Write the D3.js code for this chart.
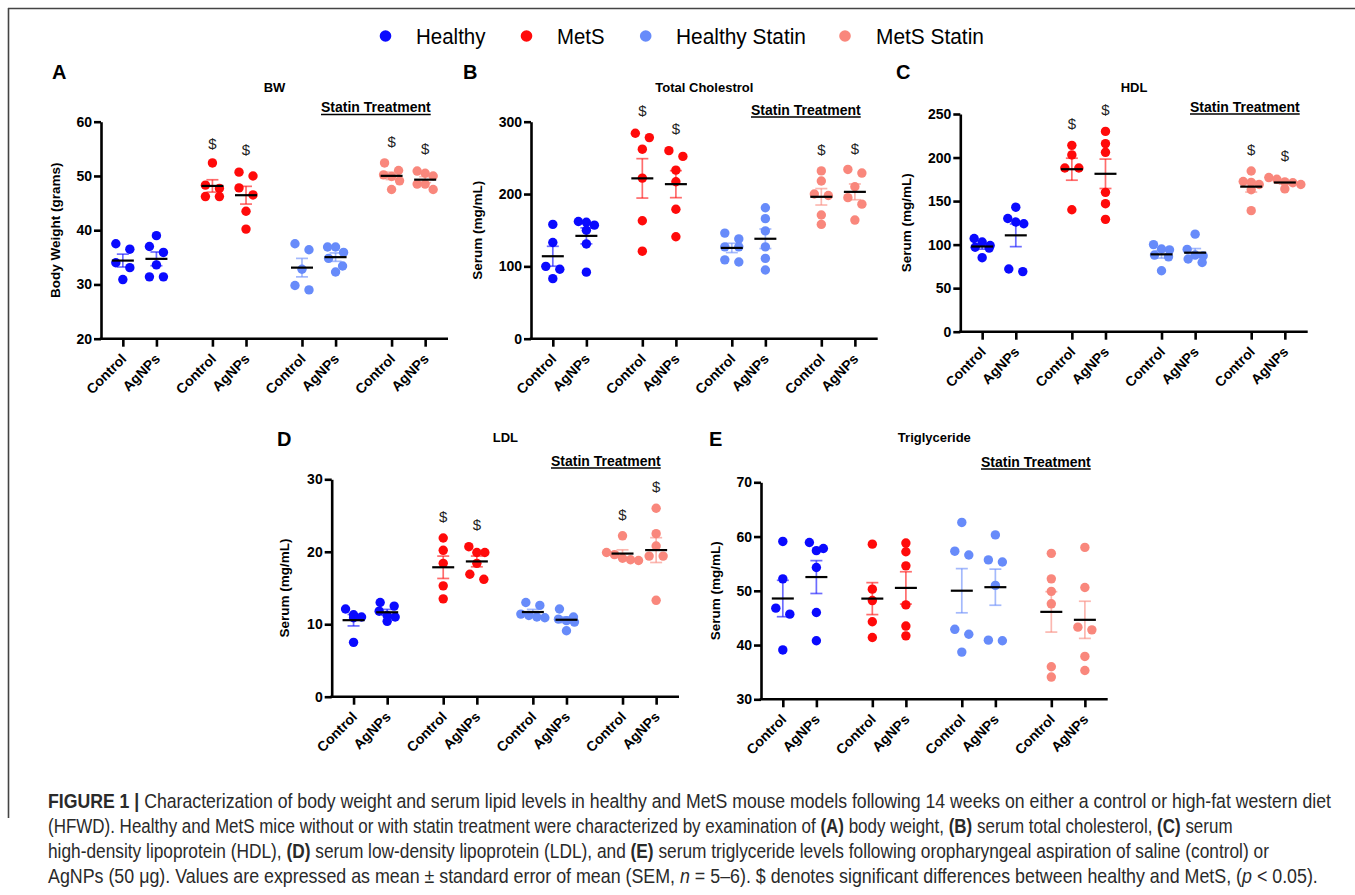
<!DOCTYPE html>
<html><head><meta charset="utf-8">
<script src="https://cdn.jsdelivr.net/npm/d3@7"></script>
<style>
body{margin:0;background:#fff;}
svg{display:block;font-family:"Liberation Sans",Arial,Helvetica,sans-serif;}
</style>
</head><body>
<svg id="fig" width="1355" height="895"></svg>
<script>
// ---------------- DATA ----------------
const groups = ["Healthy", "MetS", "Healthy Statin", "MetS Statin"];
const tickLabels = ["Control", "AgNPs", "Control", "AgNPs", "Control", "AgNPs", "Control", "AgNPs"];
const categoryGroup = [0, 0, 1, 1, 2, 2, 3, 3];

// A: body weight (grams)
const bwValues = [
  [37.5, 36.5, 34.0, 33.1, 30.9],
  [39.0, 37.0, 35.9, 33.6, 31.4, 31.4],
  [52.4, 48.3, 47.7, 46.2, 46.2],
  [50.7, 50.0, 47.8, 46.5, 43.5, 40.2],
  [37.5, 36.4, 32.8, 29.8, 29.0],
  [36.9, 36.9, 35.9, 34.8, 33.4, 32.3],
  [52.4, 51.0, 50.2, 49.9, 49.1, 47.5],
  [50.9, 50.5, 50.0, 48.5, 48.5, 47.5]
];
const bwSig = [null, null, 56.0, 54.8, null, null, 56.4, 55.1];
const bwTicks = [20, 30, 40, 50, 60];

// B: total cholesterol (mg/mL)
const tcValues = [
  [158, 133, 100, 96, 83],
  [162, 161, 157, 150, 131, 92],
  [284, 278, 262, 222, 163, 121],
  [260, 252, 233, 217, 179, 141],
  [146, 138, 127, 127, 109, 106],
  [181, 166, 149, 127, 111, 95],
  [232, 218, 200, 198, 171, 158],
  [234, 229, 210, 195, 186, 164]
];
const tcSig = [null, null, 315, 290, null, null, 262, 263];
const tcTicks = [0, 100, 200, 300];

// C: HDL (mg/mL)
const hdlValues = [
  [107, 103, 99, 97, 96, 85],
  [143, 130, 126, 124, 72, 69],
  [214, 203, 188, 188, 140],
  [230, 216, 206, 160, 147, 129],
  [100, 95, 94, 88, 86, 70],
  [112, 94.5, 88, 87, 83.5, 79.5],
  [184.5, 172.5, 171.5, 169, 163, 139],
  [177, 175, 172, 171, 169, 164]
];
const hdlSig = [null, null, 239, 255, null, null, 209, 202];
const hdlTicks = [0, 50, 100, 150, 200, 250];

// D: LDL (mg/mL)
const ldlValues = [
  [12.1, 11.3, 11.0, 10.9, 7.5],
  [13.0, 12.5, 11.8, 11.2, 11.0, 10.4],
  [21.9, 20.2, 18.4, 15.3, 13.5],
  [20.7, 19.9, 19.9, 18.4, 16.9, 16.2],
  [13.0, 12.6, 11.4, 11.2, 11.0, 10.9],
  [12.1, 11.0, 10.7, 10.5, 10.3, 9.1],
  [22.2, 19.9, 19.6, 19.1, 18.9, 18.8],
  [26.0, 22.5, 20.8, 19.4, 19.4, 13.3]
];
const ldlSig = [null, null, 24.8, 23.8, null, null, 25.2, 29.0];
const ldlTicks = [0, 10, 20, 30];

// E: triglyceride (mg/mL)
const tgValues = [
  [59.1, 52.2, 46.8, 45.7, 39.1],
  [58.9, 57.8, 57.4, 54.3, 46.0, 40.8],
  [58.6, 50.3, 48.2, 44.3, 41.4],
  [58.8, 57.2, 54.6, 47.4, 43.5, 41.7],
  [62.6, 57.3, 56.6, 42.9, 42.0, 38.7],
  [60.3, 55.7, 55.3, 51.0, 40.9, 40.8],
  [56.9, 52.2, 49.9, 47.6, 36.0, 34.1],
  [58.0, 50.6, 43.3, 42.8, 37.9, 35.3]
];
const tgSig = [null, null, null, null, null, null, null, null];
const tgTicks = [30, 40, 50, 60, 70];

const captionLines = [
  [["b","FIGURE 1 | "],["n","Characterization of body weight and serum lipid levels in healthy and MetS mouse models following 14 weeks on either a control or high-fat western diet"]],
  [["n","(HFWD). Healthy and MetS mice without or with statin treatment were characterized by examination of "],["b","(A)"],["n"," body weight, "],["b","(B)"],["n"," serum total cholesterol, "],["b","(C)"],["n"," serum"]],
  [["n","high-density lipoprotein (HDL), "],["b","(D)"],["n"," serum low-density lipoprotein (LDL), and "],["b","(E)"],["n"," serum triglyceride levels following oropharyngeal aspiration of saline (control) or"]],
  [["n","AgNPs (50 \u03bcg). Values are expressed as mean \u00b1 standard error of mean (SEM, "],["i","n"],["n"," = 5\u20136). $ denotes significant differences between healthy and MetS, ("],["i","p"],["n"," < 0.05)."]]
];

// ---------------- STYLE / LAYOUT ----------------
const colors = ["#0a0aff", "#ff0a0a", "#678bfa", "#f9877c"];
const slot = [0, 1, 2.667, 3.667, 5.333, 6.333, 8, 9];

const panels = [
  {letter:"A", title:"BW", ylabel:"Body Weight (grams)", values:bwValues, sig:bwSig, ticks:bwTicks,
   x0:101, x1:448, top:121.7, bottom:338.7, lx:52, ly:79, ty:91.5, sx:321, sy:112, ylx:46},
  {letter:"B", title:"Total Cholestrol", ylabel:"Serum (mg/mL)", values:tcValues, sig:tcSig, ticks:tcTicks,
   x0:531, x1:877.7, top:121.7, bottom:338.7, lx:463, ly:79, ty:91.5, sx:751, sy:114.5, ylx:54},
  {letter:"C", title:"HDL", ylabel:"Serum (mg/mL)", values:hdlValues, sig:hdlSig, ticks:hdlTicks,
   x0:960.3, x1:1307.7, top:114, bottom:331.7, lx:896, ly:79, ty:91.5, sx:1190, sy:111.5, ylx:54},
  {letter:"D", title:"LDL", ylabel:"Serum (mg/mL)", values:ldlValues, sig:ldlSig, ticks:ldlTicks,
   x0:331.7, x1:679, top:479.3, bottom:696.7, lx:277, ly:446, ty:441.5, sx:551, sy:465.5, ylx:47},
  {letter:"E", title:"Triglyceride", ylabel:"Serum (mg/mL)", values:tgValues, sig:tgSig, ticks:tgTicks,
   x0:761, x1:1107.7, top:482.3, bottom:699.3, lx:709, ly:446, ty:441.5, sx:981, sy:466.5, ylx:46}
];

const svg = d3.select("#fig");
svg.append("rect").attr("width",1355).attr("height",895).attr("fill","#fff");

// frame
svg.append("line").attr("x1",8).attr("x2",1355).attr("y1",8.5).attr("y2",8.5).attr("stroke","#444").attr("stroke-width",1.6);
svg.append("line").attr("x1",8.5).attr("x2",8.5).attr("y1",8).attr("y2",818).attr("stroke","#444").attr("stroke-width",1.6);

const R = 4.7;

function swarm(vals, y) {
  const pts = vals.map(v => ({v, py: y(v)})).sort((a,b) => a.py - b.py);
  const rows = [];
  pts.forEach(p => {
    const last = rows[rows.length-1];
    if (last && Math.abs(p.py - last[0].py) < 8) last.push(p); else rows.push([p]);
  });
  rows.forEach(row => {
    const n = row.length;
    const sp = n === 2 ? 14 : 8;
    row.forEach((p,i) => p.dx = (i - (n-1)/2) * sp);
  });
  return pts;
}

panels.forEach(P => {
  const g = svg.append("g");
  const x = d3.scaleLinear().domain([-0.65, 9.68]).range([P.x0, P.x1]);
  const y = d3.scaleLinear().domain([P.ticks[0], P.ticks[P.ticks.length-1]]).range([P.bottom, P.top]);

  const ya = g.append("g").attr("transform", `translate(${P.x0},0)`)
    .call(d3.axisLeft(y).tickValues(P.ticks).tickSize(7).tickSizeOuter(0).tickPadding(2));
  const xa = g.append("g").attr("transform", `translate(0,${P.bottom})`)
    .call(d3.axisBottom(x).tickValues(slot).tickSize(8).tickSizeOuter(0).tickFormat((d,i) => tickLabels[i]));
  [ya, xa].forEach(a => {
    a.select(".domain").attr("stroke","#000").attr("stroke-width",2.6);
    a.selectAll(".tick line").attr("stroke","#000").attr("stroke-width",2.6);
  });
  xa.select(".domain").attr("d", `M${P.x0-1.3},0H${P.x1}`);
  ya.selectAll(".tick text").attr("font-size",14).attr("font-weight","bold").attr("fill","#000")
    .attr("font-family","'Liberation Sans',Arial,sans-serif");
  xa.selectAll(".tick text").attr("font-size",14).attr("font-weight","bold").attr("fill","#000")
    .attr("font-family","'Liberation Sans',Arial,sans-serif")
    .attr("y",0).attr("dy",0).attr("text-anchor","end")
    .attr("transform","translate(4,21) rotate(-45)");

  g.append("text").attr("transform", `translate(${P.x0 - P.ylx},${(P.top+P.bottom)/2}) rotate(-90)`)
    .attr("text-anchor","middle").attr("dominant-baseline","central")
    .attr("font-size",13.5).attr("font-weight","bold").text(P.ylabel);

  g.append("text").attr("x",P.lx).attr("y",P.ly).attr("font-size",20).attr("font-weight","bold").text(P.letter);
  g.append("text").attr("x",(P.x0+P.x1)/2).attr("y",P.ty).attr("text-anchor","middle")
    .attr("font-size",13).attr("font-weight","bold").text(P.title);
  const st = g.append("text").attr("x",P.sx).attr("y",P.sy).attr("font-size",14).attr("font-weight","bold").text("Statin Treatment");
  const sw = st.node().getComputedTextLength();
  g.append("line").attr("x1",P.sx).attr("x2",P.sx+sw).attr("y1",P.sy+2.5).attr("y2",P.sy+2.5)
    .attr("stroke","#000").attr("stroke-width",1.3);

  P.values.forEach((vals, i) => {
    const col = colors[categoryGroup[i]];
    const cx = x(slot[i]);
    const pts = swarm(vals, y);
    g.append("g").selectAll("circle").data(pts).join("circle")
      .attr("cx", d => cx + d.dx).attr("cy", d => d.py).attr("r", R).attr("fill", col);
    const m = d3.mean(vals);
    const sem = d3.deviation(vals) / Math.sqrt(vals.length);
    const eb = g.append("g").attr("stroke", col).attr("stroke-width",1.7).attr("stroke-opacity",0.6);
    eb.append("line").attr("x1",cx).attr("x2",cx).attr("y1",y(m-sem)).attr("y2",y(m+sem));
    eb.append("line").attr("x1",cx-6).attr("x2",cx+6).attr("y1",y(m-sem)).attr("y2",y(m-sem));
    eb.append("line").attr("x1",cx-6).attr("x2",cx+6).attr("y1",y(m+sem)).attr("y2",y(m+sem));
    g.append("line").attr("x1",cx-11).attr("x2",cx+11).attr("y1",y(m)).attr("y2",y(m))
      .attr("stroke","#000").attr("stroke-width",2.2);
    if (P.sig[i] != null) {
      g.append("text").attr("x",cx).attr("y",y(P.sig[i])).attr("text-anchor","middle")
        .attr("dominant-baseline","central").attr("font-size",15).attr("fill","#222").text("$");
    }
  });
});

// legend
const legendDots = [385.5, 526.5, 645.7, 845];
const legendText = [[416, 69.5], [557, 47.5], [676, 130], [876, 108]];
groups.forEach((name, i) => {
  svg.append("circle").attr("cx", legendDots[i]).attr("cy", 36).attr("r", 5.8).attr("fill", colors[i]);
  const t = svg.append("text").attr("font-size", 22).attr("fill","#000").text(name);
  const w = t.node().getComputedTextLength();
  t.attr("transform", `translate(${legendText[i][0]},44) scale(${legendText[i][1]/w},1)`);
});

// caption
const capX = 48, capY = [808, 833, 858, 883], capW = [1284, 1186, 1222, 1271];
captionLines.forEach((parts, li) => {
  const t = svg.append("text").attr("font-size",19.5).attr("fill","#2a2a2a");
  parts.forEach(([s, txt]) => {
    const ts = t.append("tspan").text(txt);
    if (s === "b") ts.attr("font-weight","bold");
    if (s === "i") ts.attr("font-style","italic");
  });
  const w = t.node().getComputedTextLength();
  t.attr("transform", `translate(${capX},${capY[li]}) scale(${capW[li]/w},1)`);
});
</script>
</body></html>
